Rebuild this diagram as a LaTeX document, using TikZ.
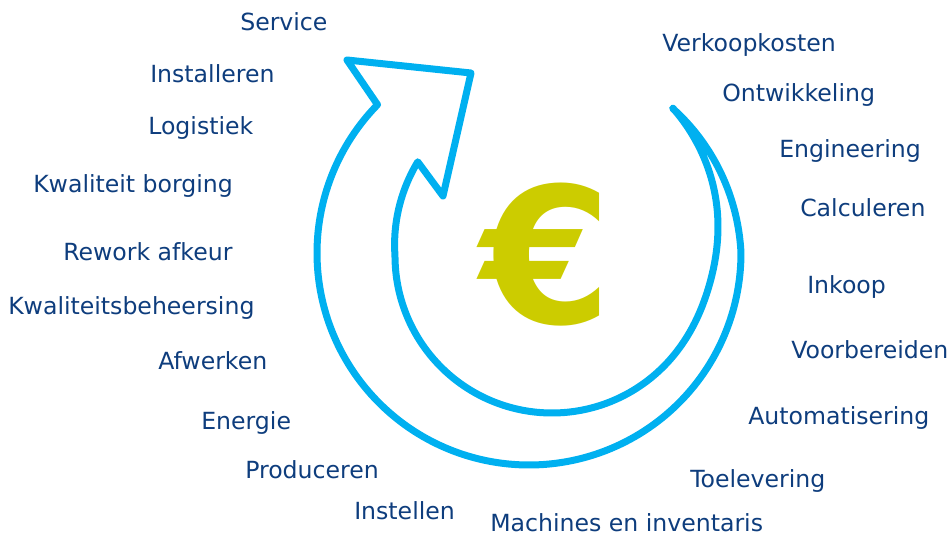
\documentclass[tikz,border=0pt]{standalone}
\usepackage{fontspec}
\setmainfont{DejaVu Sans}
\usetikzlibrary{positioning}
\definecolor{kostblauw}{RGB}{14,61,125}
\definecolor{pijlblauw}{RGB}{0,176,240}
\definecolor{eurogeel}{RGB}{204,204,0}
\tikzset{
	kost/.style={anchor=base west, inner sep=0pt, text=kostblauw, font=\fontsize{17.7}{20}\selectfont},
	pijl/.style={line width=5.25pt, draw=pijlblauw, line join=round, line cap=round}
}

\begin{document}
\begin{tikzpicture}[x=0.75pt, y=-0.75pt]
		%%%%% FRAME %%%%%
		\useasboundingbox (0, 0) rectangle (951, 535);
		
		%%%%% ARROW %%%%%
		\draw[pijl] plot[domain=-45.2:224.4, samples=120, smooth]
				({529+(212-0.18*max(0,-\x))*cos(\x)}, {253+(212-0.18*max(0,-\x))*sin(\x)})
			-- (347, 60) -- (471, 73) -- (443, 196)
			-- plot[domain=215.05:-50.7, samples=120, smooth]
				({552+(157+0.2*max(0,\x-180)+4.48*ln(1+exp(max(-15,(10-\x)/8))))*cos(\x)}, {256+(157+0.2*max(0,\x-180)+4.48*ln(1+exp(max(-15,(10-\x)/8))))*sin(\x)})
			-- cycle;
		
		\node[inner sep=0pt, text=eurogeel, font=\bfseries\fontsize{142}{142}\selectfont] (euro) at (546, 255) {€};
		
		%%%%% LEFT %%%%%
		\node[kost] (service) at (240, 31) {Service};
		\node[kost] (installeren) at (150, 83) {Installeren};
		\node[kost] (logistiek) at (148, 135) {Logistiek};
		\node[kost] (borging) at (33, 193) {Kwaliteit borging};
		\node[kost] (rework) at (63, 260) {Rework afkeur};
		\node[kost] (beheersing) at (8, 314) {Kwaliteitsbeheersing};
		\node[kost] (afwerken) at (158, 369) {Afwerken};
		\node[kost] (energie) at (201, 429) {Energie};
		\node[kost] (produceren) at (245, 478) {Produceren};
		\node[kost] (instellen) at (354, 519) {Instellen};
		
		%%%%% RIGHT %%%%%
		\node[kost] (machines) at (490, 531) {Machines en inventaris};
		\node[kost] (toelevering) at (690, 487) {Toelevering};
		\node[kost] (automatisering) at (748, 424) {Automatisering};
		\node[kost] (voorbereiden) at (791, 358) {Voorbereiden};
		\node[kost] (inkoop) at (807, 293) {Inkoop};
		\node[kost] (calculeren) at (800, 217) {Calculeren};
		\node[kost] (engineering) at (779, 158) {Engineering};
		\node[kost] (ontwikkeling) at (722, 102) {Ontwikkeling};
		\node[kost] (verkoop) at (662, 52) {Verkoopkosten};
		
		%%%%% END %%%%%
	\end{tikzpicture}
\end{document}
